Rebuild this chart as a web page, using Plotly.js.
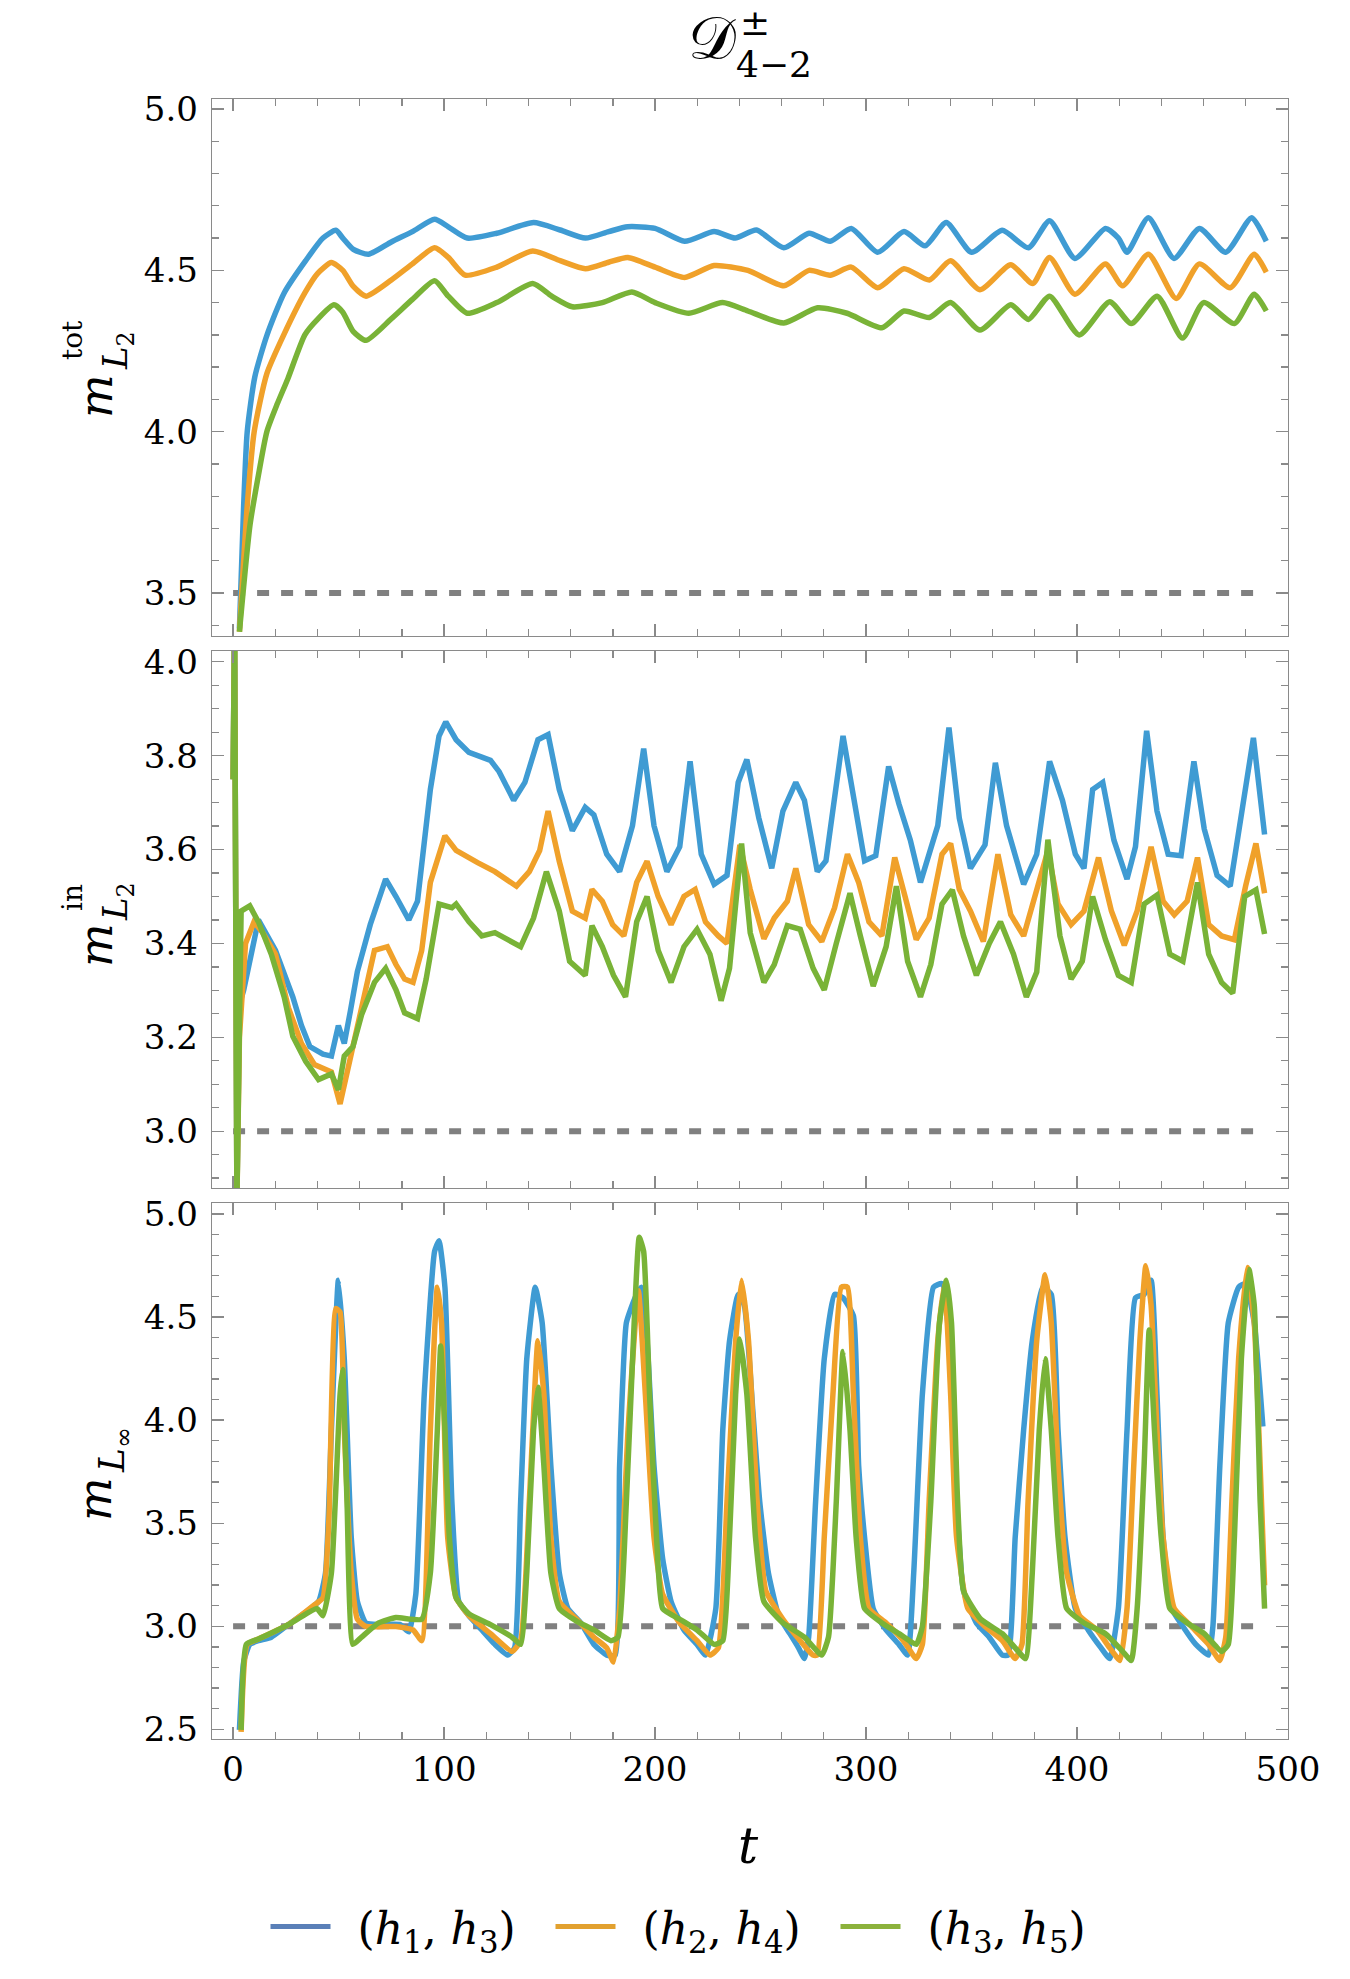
<!DOCTYPE html>
<html><head><meta charset="utf-8">
<script src="https://cdn.plot.ly/plotly-3.0.1.min.js"></script>
<style>body{margin:0;background:#fff}#chart{width:1350px;height:1979px}</style>
</head><body><div id="chart"></div>
<script>
// ---------- series labels & colours ----------
const seriesNames = ['(<i>h</i><sub>1</sub>, <i>h</i><sub>3</sub>)', '(<i>h</i><sub>2</sub>, <i>h</i><sub>4</sub>)', '(<i>h</i><sub>3</sub>, <i>h</i><sub>5</sub>)'];
const lineColors = ['#3f9bd3', '#f0a12a', '#79b337'];
const legendColors = ['#5a80b8', '#e2a12f', '#8cb23c'];
const refLevels = [3.5, 3.0, 3.0];
const refT = [0, 489];

// ---------- panel 1 : m_L2^tot ----------
const tTot13 = [3,5,6.7,10.3,16.1,24.2,34.4,42.6,48.7,52,57,64.2,75,85,95.5,102,111,125,142.4,155,167,178,187,200,214,228,238,248,261,273,283,293,305.5,318,328,338,350,364.5,377,387,399,413.5,419.6,423.7,433.8,446,458,470.5,482.8,489.7];
const mTot13 = [3.39,3.77,4.0,4.17,4.30,4.43,4.53,4.60,4.624,4.60,4.565,4.55,4.588,4.62,4.658,4.635,4.60,4.615,4.648,4.625,4.60,4.62,4.635,4.63,4.59,4.62,4.60,4.625,4.57,4.615,4.59,4.63,4.556,4.62,4.576,4.648,4.556,4.624,4.57,4.654,4.537,4.63,4.60,4.556,4.663,4.537,4.63,4.556,4.663,4.59];
const tTot24 = [3,6.7,10,16,24,34,40,46.6,52,57,63,75,85,95.5,102,110,125,142,155,167,178,187,200,214,228,244,261,273,283,293,305.5,318,330,340,354,368.6,379,387,399,413.5,421.6,433.8,447,458,472.6,484,489.7];
const mTot24 = [3.38,3.77,4.0,4.18,4.30,4.43,4.49,4.524,4.50,4.45,4.42,4.47,4.52,4.57,4.54,4.485,4.51,4.56,4.53,4.505,4.525,4.54,4.51,4.478,4.515,4.50,4.452,4.50,4.485,4.51,4.446,4.505,4.47,4.53,4.44,4.517,4.459,4.54,4.426,4.52,4.452,4.55,4.413,4.52,4.446,4.55,4.494];
const tTot35 = [3,8,12,16,21,26,34,40,47.8,52,57,63,75,85,95.5,102,111,125,142,151,160.8,175,189,200,216,232,244,261,277,291,307.5,318,330,340,354,368.6,377,387,401,415.5,425.7,438,450,460,474.6,484,489.7];
const mTot35 = [3.38,3.71,3.865,4.0,4.087,4.165,4.30,4.348,4.393,4.37,4.31,4.283,4.35,4.41,4.468,4.42,4.367,4.40,4.459,4.42,4.387,4.40,4.433,4.40,4.367,4.40,4.374,4.337,4.384,4.367,4.322,4.374,4.354,4.40,4.315,4.393,4.348,4.42,4.30,4.403,4.335,4.42,4.29,4.40,4.335,4.426,4.374];

// ---------- panel 2 : m_L2^in ----------
const tIn13 = [0,0.7,1.8,3,5,8,12,20.1,28.3,32.4,36.4,42.6,46.6,49.9,52.7,55.6,58.9,65,72.3,77.2,83.3,87.4,93.5,97.6,100.8,105.7,111.8,122,126.1,133,138.3,144.5,149.3,154.6,160.8,166.9,171,177.1,183.2,189.3,194.6,199.5,205.6,211.7,216.6,221.9,228,234.1,239.4,243.5,249.2,255.3,260.6,266.7,270.8,276.9,281,289.1,294,299.3,304.6,310.7,315.6,321,325.8,334,339.3,344.2,349.5,356.4,361.3,366.6,374.7,380.9,387,393.1,399.2,403.3,407.4,412.2,417.5,423.7,427.7,433,437.9,443.2,449.3,455.4,460.3,466.4,472.6,477.9,483.6,488.9];
const mIn13 = [3.75,4.1,2.85,3.27,3.30,3.36,3.45,3.385,3.286,3.225,3.18,3.164,3.16,3.225,3.187,3.256,3.34,3.44,3.537,3.50,3.45,3.49,3.728,3.842,3.872,3.834,3.807,3.79,3.766,3.705,3.743,3.834,3.845,3.728,3.64,3.69,3.674,3.59,3.553,3.651,3.815,3.651,3.553,3.606,3.788,3.59,3.526,3.545,3.743,3.792,3.667,3.56,3.682,3.743,3.705,3.553,3.576,3.842,3.72,3.576,3.587,3.777,3.697,3.62,3.53,3.651,3.86,3.667,3.56,3.61,3.785,3.651,3.526,3.59,3.788,3.705,3.59,3.56,3.728,3.743,3.62,3.537,3.606,3.853,3.682,3.59,3.587,3.788,3.644,3.545,3.522,3.674,3.838,3.632];
const tIn24 = [0,0.7,1.8,3,5.9,9.9,14,20.1,26.2,32.4,38.5,42.6,46.6,50.7,54.8,60.9,67,73.1,77.2,81.3,85.3,89.4,93.5,100.4,105.7,115.9,124.1,134.3,140.4,145.3,149.3,154.6,160.8,166.9,170.1,175,179.9,185.2,191.3,196.2,201.5,207.6,213.7,219,223.9,230,234.1,240.2,245.1,251.6,256.5,262.7,266.7,272.8,279,285.1,291.2,296.5,301.4,307.5,313.6,318.5,323.8,329.9,336,340.1,344.2,349.5,355.6,362.5,368.6,374.7,380.9,386.2,391,397.2,403.3,410.2,416.3,422.4,428.5,435.1,440.8,446.1,452.2,457.1,462.4,468.5,474.6,479.9,484.8,488.9];
const mIn24 = [3.75,4.1,2.85,3.2,3.40,3.446,3.423,3.377,3.263,3.187,3.142,3.134,3.126,3.058,3.142,3.263,3.385,3.393,3.355,3.324,3.317,3.385,3.53,3.629,3.598,3.572,3.553,3.522,3.553,3.598,3.682,3.575,3.469,3.454,3.515,3.49,3.44,3.416,3.53,3.575,3.50,3.44,3.50,3.515,3.446,3.416,3.40,3.61,3.515,3.41,3.454,3.49,3.56,3.44,3.404,3.476,3.59,3.53,3.446,3.416,3.583,3.50,3.408,3.454,3.59,3.613,3.515,3.469,3.404,3.59,3.461,3.416,3.515,3.598,3.484,3.44,3.469,3.583,3.469,3.396,3.469,3.606,3.49,3.461,3.49,3.583,3.44,3.416,3.408,3.522,3.613,3.507];
const tIn35 = [0,0.7,1.8,3.8,7.9,12,18.1,24.2,28.3,34.4,40.5,46.6,49.9,52.7,56.8,60.9,67,72.3,77.2,81.3,87.4,91.5,97.6,103.7,105.7,111.8,117.9,124.1,130.2,136.3,142.4,148.5,154.6,159.5,166.9,170.1,175,180.3,186,191.3,196.2,201.5,207.6,213.7,219.9,226,231.3,235.3,241,245.1,251.6,256.5,262.7,268.8,274.9,280.2,285.9,292.4,297.3,303.4,309.5,314.4,319.7,325.8,330.7,336,340.9,346.2,352.3,358.4,363.7,369.9,376,380.9,386.2,391.9,397.2,402.5,407.4,413.5,419.6,425.7,431.8,437.9,444,450.2,457.1,462.4,468.5,473.8,479.5,484.8,488.9];
const mIn35 = [3.75,4.1,2.85,3.469,3.48,3.446,3.377,3.286,3.202,3.149,3.11,3.122,3.088,3.16,3.18,3.248,3.317,3.347,3.301,3.252,3.24,3.324,3.484,3.476,3.484,3.446,3.416,3.423,3.408,3.393,3.454,3.553,3.469,3.362,3.332,3.438,3.393,3.332,3.286,3.446,3.50,3.385,3.317,3.393,3.43,3.377,3.278,3.347,3.613,3.423,3.317,3.355,3.438,3.43,3.347,3.301,3.40,3.507,3.416,3.309,3.393,3.522,3.362,3.286,3.355,3.484,3.514,3.416,3.332,3.40,3.446,3.377,3.286,3.339,3.621,3.416,3.324,3.362,3.50,3.408,3.332,3.317,3.484,3.503,3.377,3.362,3.53,3.377,3.317,3.294,3.50,3.514,3.42];

// ---------- panel 3 : m_Linf ----------
const tInf13 = [3.0,5.0,7.9,12.0,18.1,26.2,34.4,40.5,43.8,46.6,49.9,52.7,56.0,58.9,62.9,69.0,79.2,83.3,86.6,90.6,95.5,97.6,100.4,103.7,107.0,111.8,117.9,124.1,130.2,133.4,136.3,139.2,143.2,146.5,150.6,154.6,158.7,164.8,171.0,177.1,181.1,183.2,186.4,190.5,193.4,196.2,199.5,203.6,207.6,213.7,219.9,223.9,228.8,232.1,235.3,239.4,242.3,246.4,249.6,253.7,258.6,263.9,268.0,270.8,272.8,276.1,280.2,285.1,289.1,294.0,296.5,299.3,303.4,309.5,315.6,319.7,322.6,326.7,332.0,336.0,340.1,342.9,346.2,352.3,358.4,364.6,367.4,370.7,374.7,378.8,383.7,387.8,391.0,394.3,399.2,405.3,411.4,415.5,419.6,423.7,427.7,431.8,435.1,437.9,440.8,444.9,450.2,456.3,462.4,464.4,467.7,471.7,476.6,479.9,484.0,488.1];
const mInf13 = [2.497,2.826,2.912,2.93,2.947,3.008,3.068,3.12,3.259,3.952,4.679,4.298,3.432,3.12,3.016,3.008,3.008,2.973,3.155,4.125,4.818,4.87,4.645,3.605,3.12,3.051,2.982,2.912,2.86,2.895,3.605,4.298,4.645,4.472,3.779,3.259,3.086,3.016,2.912,2.86,2.86,3.779,4.472,4.593,4.645,4.385,3.779,3.328,3.12,2.982,2.912,2.86,3.086,3.952,4.385,4.61,4.558,4.038,3.605,3.259,3.051,2.964,2.895,2.843,2.947,3.605,4.298,4.61,4.593,4.506,3.779,3.432,3.086,2.982,2.912,2.86,3.259,4.125,4.645,4.662,4.298,3.605,3.172,3.016,2.947,2.86,2.86,3.432,3.952,4.385,4.645,4.61,3.952,3.432,3.086,2.982,2.895,2.843,3.086,3.952,4.593,4.61,4.679,4.125,3.432,3.086,2.999,2.912,2.86,2.999,3.779,4.472,4.645,4.662,4.472,3.969];
const tInf24 = [3.8,6.7,12.0,26.2,38.5,42.6,45.4,48.7,50.7,52.7,56.0,58.9,62.9,77.2,85.3,89.4,93.5,96.8,98.8,101.7,105.7,111.8,122.0,132.2,136.3,140.4,144.5,147.3,150.6,154.6,162.8,171.0,177.1,180.3,183.2,187.2,192.1,195.4,199.5,203.6,211.7,219.9,226.0,230.0,234.1,238.2,241.0,244.3,248.4,252.5,260.6,268.8,274.9,276.9,280.2,284.3,288.3,291.2,294.0,297.3,301.4,309.5,317.7,323.8,326.7,329.9,334.0,337.2,340.1,342.9,348.3,356.4,364.6,370.7,373.9,376.8,380.9,384.9,387.8,391.0,395.1,401.2,409.4,415.5,420.4,423.7,426.9,429.8,432.6,435.1,437.9,440.8,446.1,454.2,462.4,467.7,470.5,473.4,476.6,480.7,484.0,486.8,488.9];
const mInf24 = [2.488,2.912,2.938,3.008,3.103,3.138,3.519,4.541,4.524,3.952,3.259,3.034,2.999,2.999,2.982,2.93,3.952,4.645,4.472,3.432,3.138,3.051,2.964,2.878,2.93,3.605,4.385,4.125,3.432,3.12,3.034,2.947,2.895,2.826,3.086,3.952,4.628,4.125,3.432,3.155,3.016,2.93,2.86,2.895,3.605,4.385,4.679,4.385,3.605,3.172,3.034,2.93,2.86,2.86,3.432,4.125,4.645,4.645,4.125,3.432,3.086,3.016,2.93,2.843,2.912,3.605,4.385,4.662,4.125,3.432,3.086,2.999,2.93,2.843,2.912,3.605,4.385,4.705,4.472,3.779,3.259,3.051,2.982,2.895,2.834,3.086,3.779,4.385,4.749,4.558,3.952,3.432,3.086,2.999,2.912,2.834,2.947,3.605,4.298,4.74,4.472,3.779,3.198];
const tInf35 = [3.8,6.3,12.0,26.2,39.7,42.6,46.6,50.7,51.9,54.0,56.8,60.9,69.0,77.2,89.4,93.5,96.8,98.4,100.4,102.5,105.7,111.8,122.0,132.2,136.3,139.2,142.4,144.5,147.3,150.6,154.6,162.8,171.0,179.1,182.4,186.4,190.1,192.5,194.6,197.4,200.7,203.6,211.7,219.9,228.0,232.1,235.3,238.2,240.2,243.5,247.6,251.6,260.6,270.8,279.0,282.2,285.9,289.1,292.4,295.3,299.3,307.5,315.6,323.8,326.7,330.7,334.8,338.1,340.5,343.4,346.2,354.4,364.6,370.7,375.6,378.8,382.1,384.9,387.8,391.0,395.1,403.3,413.5,421.6,425.7,428.5,431.8,434.2,436.7,439.9,444.0,452.2,460.3,468.5,471.7,474.6,477.9,481.5,484.0,486.8,488.9];
const mInf35 = [2.497,2.912,2.938,3.008,3.086,3.051,3.259,4.125,4.246,3.605,2.912,2.947,3.016,3.042,3.034,3.259,3.952,4.359,3.952,3.432,3.138,3.06,3.008,2.947,2.912,3.259,3.952,4.16,3.779,3.259,3.086,3.025,2.982,2.93,2.947,3.605,4.472,4.887,4.818,4.125,3.432,3.086,3.034,2.982,2.912,2.93,3.432,4.125,4.394,4.125,3.432,3.12,3.016,2.947,2.86,2.947,3.605,4.333,3.952,3.432,3.086,3.016,2.964,2.912,2.999,3.605,4.472,4.679,4.472,3.605,3.172,3.034,2.964,2.895,2.843,3.259,3.952,4.298,3.952,3.432,3.086,3.016,2.964,2.878,2.834,3.086,3.779,4.437,3.952,3.432,3.086,3.016,2.964,2.878,2.912,3.432,4.298,4.731,4.558,3.605,3.086];

// ---------- build ----------
const FONT = 'DejaVu Serif';
const panels = [
  {xa:'x',  ya:'y',  ref:refLevels[0], series:[[tTot13,mTot13],[tTot24,mTot24],[tTot35,mTot35]], shape:'spline', sm:0.6},
  {xa:'x2', ya:'y2', ref:refLevels[1], series:[[tIn13,mIn13],[tIn24,mIn24],[tIn35,mIn35]], shape:'linear', sm:0},
  {xa:'x3', ya:'y3', ref:refLevels[2], series:[[tInf13,mInf13],[tInf24,mInf24],[tInf35,mInf35]], shape:'spline', sm:0.45}
];
const traces = [];
panels.forEach(p => {
  traces.push({x:refT, y:[p.ref,p.ref], xaxis:p.xa, yaxis:p.ya, mode:'lines', showlegend:false, hoverinfo:'skip',
    line:{color:'#808080', width:6, dash:'12px,12px'}});
  p.series.forEach((s,i) => {
    const ln = {color:lineColors[i], width:5.5, shape:p.shape};
    if (p.shape === 'spline') ln.smoothing = p.sm;
    traces.push({x:s[0], y:s[1], xaxis:p.xa, yaxis:p.ya, mode:'lines', name:seriesNames[i], showlegend:false, line:ln});
  });
});
// legend entries (legend swatch colours as in the reference)
seriesNames.forEach((n,i) => traces.push({x:[null], y:[null], mode:'lines', name:'\u2002'+n, xaxis:'x3', yaxis:'y3',
  line:{color:legendColors[i], width:5}, showlegend:true}));

const AX = '#8a8a8a';
function common(){ return {showline:true, linecolor:AX, linewidth:1.3, mirror:'ticks', ticks:'inside', ticklen:12,
  tickwidth:1.3, tickcolor:AX, showgrid:false, zeroline:false, fixedrange:true,
  tickfont:{family:FONT, size:34, color:'#000'}}; }
function xax(anchor, labels){ return Object.assign(common(), {anchor:anchor, range:[-10,500], tick0:0, dtick:100,
  showticklabels:labels, ticklabelstandoff:0,
  minor:{ticks:'inside', dtick:20, tick0:0, ticklen:7, tickcolor:AX, tickwidth:1.3, showgrid:false}}); }
function yax(anchor, domain, range, dtick, mdt){ return Object.assign(common(), {anchor:anchor, domain:domain, range:range,
  tick0:0, dtick:dtick, tickformat:'.1f', ticklabelstandoff:6,
  minor:{ticks:'inside', dtick:mdt, tick0:0, ticklen:7, tickcolor:AX, tickwidth:1.3, showgrid:false}}); }

// paper-coordinate helpers for text placement (pixel -> paper)
const L=212, T=99, PW=1076, PH=1640;
const px = v => (v-L)/PW, py = v => 1-(v-T)/PH;
function ann(text, x, y, size, extra){ return Object.assign({text:text, xref:'paper', yref:'paper', x:px(x), y:py(y),
  showarrow:false, xanchor:'center', yanchor:'middle', borderpad:0, font:{family:FONT, size:size, color:'#000'}}, extra||{}); }

const annotations = [
  ann('𝒟', 737, 38, 60, {xanchor:'right'}),
  ann('±', 739, 22, 36, {xanchor:'left'}),
  ann('4−2', 735, 64, 36, {xanchor:'left'}),
  ann('<i>m</i>', 96, 396, 46, {textangle:-90}),
  ann('tot', 72, 340, 28, {textangle:-90}),
  ann('<i>L</i><sub>2</sub>', 117, 350, 34, {textangle:-90}),
  ann('<i>m</i>', 96, 945, 46, {textangle:-90}),
  ann('in', 72, 898, 28, {textangle:-90}),
  ann('<i>L</i><sub>2</sub>', 117, 901, 34, {textangle:-90}),
  ann('<i>m</i>', 95, 1499, 46, {textangle:-90}),
  ann('<i>L</i><sub>∞</sub>', 114, 1450, 36, {textangle:-90}),
  ann('<i>t</i>', 748, 1846, 50)
];

const layout = {
  width:1350, height:1979, paper_bgcolor:'#fff', plot_bgcolor:'#fff',
  margin:{l:L, r:1350-L-PW, t:T, b:1979-T-PH},
  font:{family:FONT, color:'#000'},
  showlegend:true,
  legend:{orientation:'h', x:px(693), y:py(1927), xanchor:'center', yanchor:'middle',
    font:{family:FONT, size:44, color:'#000'}, itemwidth:60, entrywidth:210, entrywidthmode:'pixels',
    bgcolor:'rgba(0,0,0,0)'},
  xaxis: xax('y', false),
  xaxis2: xax('y2', false),
  xaxis3: xax('y3', true),
  yaxis: yax('x', [0.6726,1], [3.367,5.031], 0.5, 0.1),
  yaxis2: yax('x2', [0.336,0.6634], [2.879,4.023], 0.2, 0.05),
  yaxis3: yax('x3', [0,0.3268], [2.453,5.053], 0.5, 0.1),
  annotations: annotations
};
Plotly.newPlot('chart', traces, layout, {staticPlot:true, displayModeBar:false});
</script>
</body></html>
